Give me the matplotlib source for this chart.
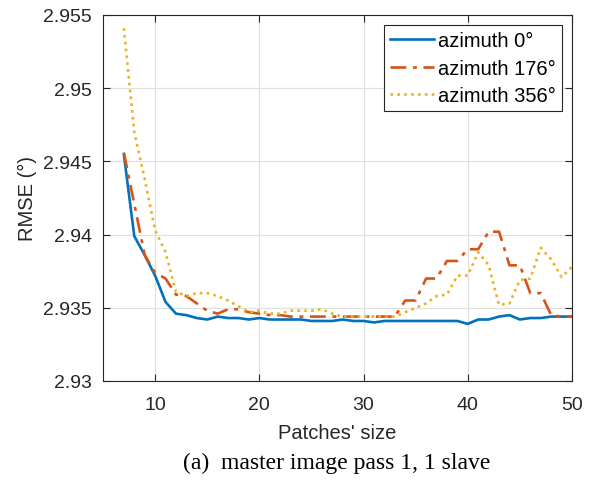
import matplotlib
matplotlib.use("Agg")
import matplotlib.pyplot as plt
import numpy as np

patch_size = list(range(7, 51))

az0 = [2.9455, 2.9399, 2.9386, 2.9372, 2.9354, 2.9346, 2.9345, 2.9343, 2.9342, 2.9344,
       2.9343, 2.9343, 2.9342, 2.9343, 2.9342, 2.9342, 2.9342, 2.9342, 2.9341, 2.9341,
       2.9341, 2.9342, 2.9341, 2.9341, 2.9340, 2.9341, 2.9341, 2.9341, 2.9341, 2.9341,
       2.9341, 2.9341, 2.9341, 2.9339, 2.9342, 2.9342, 2.9344, 2.9345, 2.9342, 2.9343,
       2.9343, 2.9344, 2.9344, 2.9344]

az176 = [2.9456, 2.9421, 2.9386, 2.9374, 2.9370, 2.9359, 2.9358, 2.9353, 2.9348, 2.9346,
         2.9349, 2.9349, 2.9347, 2.9346, 2.9345, 2.9345, 2.9344, 2.9344, 2.9344, 2.9344,
         2.9344, 2.9344, 2.9344, 2.9344, 2.9344, 2.9344, 2.9344, 2.9355, 2.9355, 2.9370,
         2.9370, 2.9382, 2.9382, 2.9390, 2.9390, 2.9402, 2.9402, 2.9379, 2.9379, 2.9360,
         2.9360, 2.9345, 2.9344, 2.9344]

az356 = [2.9541, 2.9470, 2.9438, 2.9403, 2.9388, 2.9361, 2.9358, 2.9360, 2.9360, 2.9358,
         2.9355, 2.9351, 2.9347, 2.9348, 2.9346, 2.9346, 2.9348, 2.9348, 2.9348, 2.9349,
         2.9346, 2.9344, 2.9344, 2.9344, 2.9344, 2.9344, 2.9344, 2.9347, 2.9350, 2.9353,
         2.9358, 2.9359, 2.9372, 2.9372, 2.9388, 2.9379, 2.9352, 2.9353, 2.9369, 2.9370,
         2.9391, 2.9383, 2.9371, 2.9378]

labels = ["azimuth 0°", "azimuth 176°", "azimuth 356°"]
xticks = [10, 20, 30, 40, 50]
yticks = [2.93, 2.935, 2.94, 2.945, 2.95, 2.955]
ytick_labels = ["2.93", "2.935", "2.94", "2.945", "2.95", "2.955"]

plt.rcParams['font.family'] = ['Liberation Sans', 'DejaVu Sans']

fig = plt.figure(figsize=(5.92, 4.81), dpi=100)
ax = fig.add_axes([103/592, 1 - 382/481, (572-103)/592, (382-16)/481])

ax.plot(patch_size, az0, color='#0072BD', lw=1.9, ls='-', label=labels[0])
ax.plot(patch_size, az176, color='#D95319', lw=1.9, ls=(0, (6, 2.5, 1.5, 2.5)), label=labels[1])
ax.plot(patch_size, az356, color='#EDB120', lw=1.9, ls=(0, (1, 1.6)), label=labels[2])

ax.set_xlim(5, 50)
ax.set_ylim(2.93, 2.955)
ax.set_xticks(xticks)
ax.set_yticks(yticks)
ax.set_yticklabels(ytick_labels)
ax.grid(True, color='#e0e0e0', lw=0.9)
ax.set_axisbelow(True)
ax.tick_params(direction='in', length=5, width=0.8, labelsize=14, colors='#262626',
               top=True, right=True)
ax.tick_params(axis='x', pad=11)
ax.tick_params(axis='y', pad=8)
for sp in ax.spines.values():
    sp.set_color('#262626')
    sp.set_linewidth(0.8)

ax.set_xlabel("Patches' size", fontsize=14.5, color='#262626', labelpad=7)
ax.set_ylabel("RMSE (°)", fontsize=14.5, color='#262626', labelpad=4)

leg = ax.legend(loc='upper right', fontsize=14.5, frameon=True, fancybox=False,
                edgecolor='#262626', framealpha=1, borderpad=0.3, labelspacing=0.42,
                handlelength=2.2, handletextpad=0.2, borderaxespad=0.5)
leg.get_frame().set_linewidth(0.8)

fig.text(337/592, 1 - 463/481, "(a)  master image pass 1, 1 slave", ha='center', va='center',
         fontsize=17, family=['Liberation Serif', 'DejaVu Serif'])

fig.savefig("out.png", dpi=100)
